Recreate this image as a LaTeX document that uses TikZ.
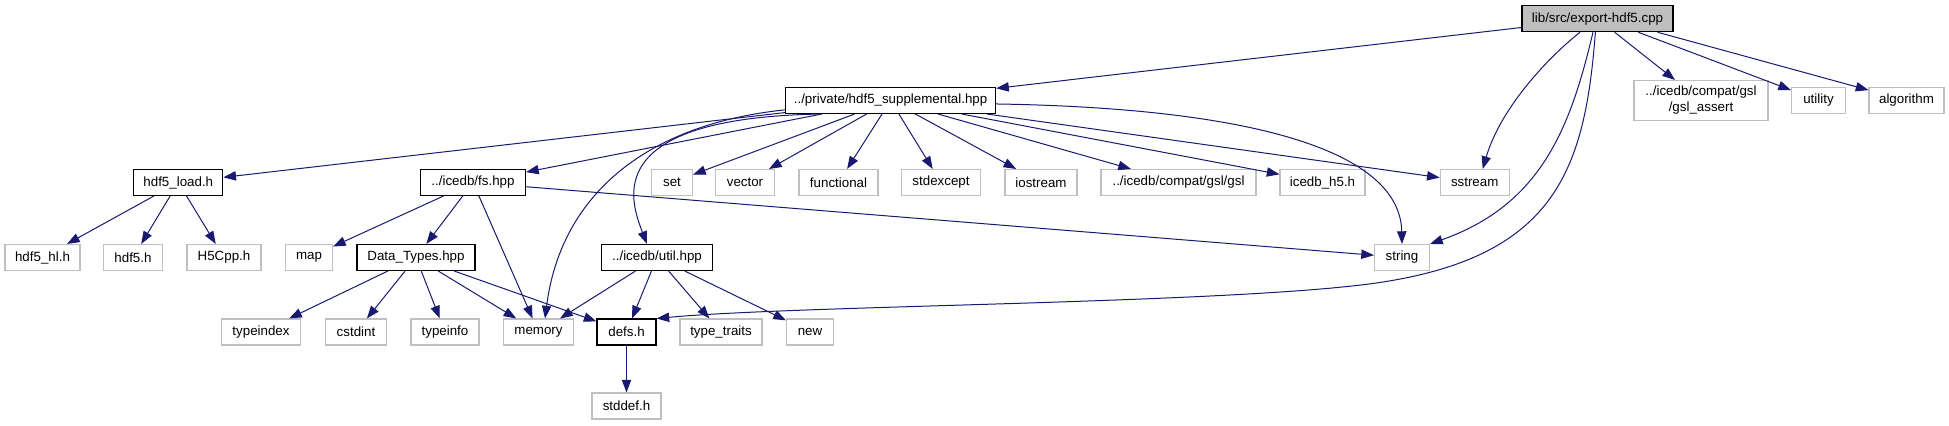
\documentclass[tikz,border=0pt]{standalone}
\usepackage{fontspec}
\setmainfont{Liberation Sans}
\usetikzlibrary{arrows.meta}
\definecolor{edgeblue}{HTML}{191970}
\definecolor{extgrey}{HTML}{BFBFBF}
\begin{document}
\begin{tikzpicture}[x=0.75pt,y=-0.75pt,
  box/.style={draw, rectangle, inner sep=0pt, font=\fontsize{10}{12}\selectfont, line width=0.8pt, minimum height=26*0.75pt},
  doc/.style={box, draw=black},
  ext/.style={box, draw=extgrey},
  wd/.style={minimum width=#1*0.75pt},
  edge/.style={draw=edgeblue, line width=0.75pt, -{Triangle[length=9.5pt,width=7pt]}}]
\useasboundingbox (0,0) rectangle (1949,425);
% nodes
\node[box, fill=extgrey, draw=black, wd=151] (main) at (1597.5,18.7) {lib/src/export-hdf5.cpp};
\node[doc, wd=210] (supp) at (890.6,100.5) {../private/hdf5\_supplemental.hpp};
\node[ext, wd=134, minimum height=40*0.75pt, align=center] (gslassert) at (1701,100.5) {../icedb/compat/gsl\\/gsl\_assert};
\node[ext, wd=54] (utility) at (1818.5,100.5) {utility};
\node[ext, wd=75] (algorithm) at (1906.5,100.5) {algorithm};
\node[doc, wd=89] (hload) at (178.3,182.5) {hdf5\_load.h};
\node[doc, wd=105] (fs) at (473,182.5) {../icedb/fs.hpp};
\node[ext, wd=41] (set) at (672,182.5) {set};
\node[ext, wd=59] (vector) at (745,182.5) {vector};
\node[ext, wd=79] (functional) at (838.5,182.5) {functional};
\node[ext, wd=79] (stdexcept) at (941,182.5) {stdexcept};
\node[ext, wd=72] (iostream) at (1041,182.5) {iostream};
\node[ext, wd=155] (gsl) at (1178.5,182.5) {../icedb/compat/gsl/gsl};
\node[ext, wd=85] (icedbh5) at (1322.5,182.5) {icedb\_h5.h};
\node[ext, wd=69] (sstream) at (1474.7,182.5) {sstream};
\node[ext, wd=75] (hl) at (42.5,257.5) {hdf5\_hl.h};
\node[ext, wd=59] (h5) at (133,257.5) {hdf5.h};
\node[ext, wd=74] (h5cpp) at (224,257.5) {H5Cpp.h};
\node[ext, wd=47] (map) at (309,257.5) {map};
\node[doc, wd=118] (dt) at (416,257.5) {Data\_Types.hpp};
\node[doc, wd=111] (util) at (657,257.5) {../icedb/util.hpp};
\node[ext, wd=55] (string) at (1402,257.5) {string};
\node[ext, wd=79] (typeindex) at (261,332) {typeindex};
\node[ext, wd=61] (cstdint) at (356,332) {cstdint};
\node[ext, wd=68] (typeinfo) at (445,332) {typeinfo};
\node[ext, wd=70] (memory) at (538.5,332) {memory};
\node[doc, wd=59] (defs) at (626.5,332) {defs.h};
\node[ext, wd=82] (typetraits) at (721,332) {type\_traits};
\node[ext, wd=47] (new) at (810,332) {new};
\node[ext, wd=69] (stddef) at (626.5,406) {stddef.h};
% edges from main
\draw[edge] (main) -- (supp);
\draw[edge] ([xshift=-13.1pt]main.south) .. controls (1545,60) and (1500,110) .. ([xshift=6pt]sstream.north);
\draw[edge] ([xshift=-3.4pt]main.south) .. controls (1570,130) and (1540,205) .. (string.north east);
\draw[edge] ([xshift=-1.6pt]main.south) .. controls (1585,170) and (1555,255) .. (1383,282) .. controls (1245,303.6) and (800,305) .. (defs.north east);
\draw[edge] (main) -- (gslassert);
\draw[edge] ([xshift=30.6pt]main.south) -- (utility);
\draw[edge] ([xshift=45pt]main.south) -- (algorithm);
% edges from supp
\draw[edge] (supp) -- (hload);
\draw[edge] (supp) -- (fs);
\draw[edge] ([yshift=-7pt]supp.west) .. controls (640,125) and (560,200) .. ([xshift=4.9pt]memory.north);
\draw[edge] ([xshift=-53pt]supp.south) .. controls (600,118) and (630,200) .. ([xshift=-7.5pt]util.north);
\draw[edge] (supp) -- (set);
\draw[edge] (supp) -- (vector);
\draw[edge] (supp) -- (functional);
\draw[edge] (supp) -- (stdexcept);
\draw[edge] (supp) -- (iostream);
\draw[edge] (supp) -- (gsl);
\draw[edge] (supp) -- (icedbh5);
\draw[edge] (supp) -- (sstream);
\draw[edge] ([yshift=-2.6pt]supp.east) .. controls (1250,108) and (1400,150) .. (string.north);
% hdf5_load
\draw[edge] (hload) -- (hl);
\draw[edge] (hload) -- (h5);
\draw[edge] (hload) -- (h5cpp);
% fs
\draw[edge] (fs) -- (map);
\draw[edge] (fs) -- (dt);
\draw[edge] (fs) -- (memory);
\draw[edge] (fs) -- (string);
% Data_Types
\draw[edge] (dt) -- (typeindex);
\draw[edge] (dt) -- (cstdint);
\draw[edge] (dt) -- (typeinfo);
\draw[edge] (dt) -- (memory);
\draw[edge] (dt) -- (defs);
% util
\draw[edge] (util) -- (memory);
\draw[edge] (util) -- (defs);
\draw[edge] (util) -- (typetraits);
\draw[edge] (util) -- (new);
% defs
\draw[edge] (defs) -- (stddef);
\end{tikzpicture}
\end{document}
